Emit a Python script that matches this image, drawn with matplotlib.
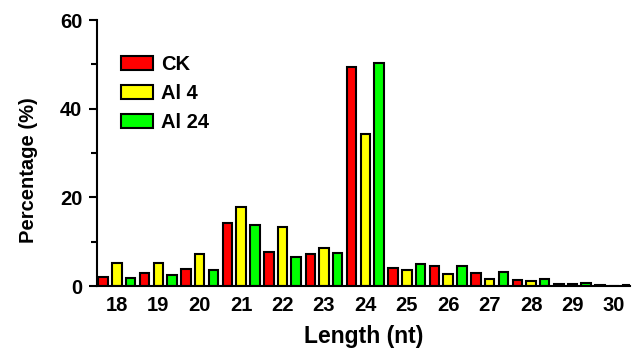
import numpy as np
import matplotlib
matplotlib.use('Agg')
import matplotlib.pyplot as plt
from matplotlib.ticker import MultipleLocator

plt.rcParams['font.family'] = ['Liberation Sans', 'DejaVu Sans']
plt.rcParams['font.weight'] = 'bold'

lengths = [18, 19, 20, 21, 22, 23, 24, 25, 26, 27, 28, 29, 30]
ck = [2.0, 2.9, 3.8, 14.3, 7.7, 7.2, 49.4, 4.0, 4.6, 3.0, 1.35, 0.5, 0.2]
al4 = [5.3, 5.3, 7.2, 17.8, 13.4, 8.5, 34.3, 3.7, 2.7, 1.6, 1.05, 0.4, 0.1]
al24 = [1.8, 2.5, 3.5, 13.8, 6.6, 7.5, 50.4, 4.9, 4.5, 3.1, 1.5, 0.6, 0.15]
series = [('CK', ck, '#ff0000'), ('Al 4', al4, '#ffff00'), ('Al 24', al24, '#00ff00')]

fig = plt.figure(figsize=(6.33, 3.53), dpi=100)
ax = fig.add_axes([97/633, 1 - 286/353, 533/633, 266/353])

x = np.array(lengths)
w = 0.23
for i, (name, vals, col) in enumerate(series):
    ax.bar(x + (i - 1) * 0.33, vals, width=w, color=col, edgecolor='black',
           linewidth=1.5, label=name)

ax.set_xlim(17.52, 30.39)
ax.set_ylim(0, 60)
ax.set_xticks(lengths)
ax.yaxis.set_major_locator(MultipleLocator(20))
ax.yaxis.set_minor_locator(MultipleLocator(10))
ax.tick_params(axis='x', length=0, labelsize=14.5, pad=7)
ax.tick_params(axis='y', which='major', length=5.5, width=1.5, labelsize=14.5, pad=5)
ax.tick_params(axis='y', which='minor', length=4.5, width=1.5)
for s in ['top', 'right']:
    ax.spines[s].set_visible(False)
for s in ['left', 'bottom']:
    ax.spines[s].set_linewidth(1.5)

ax.set_xlabel('Length (nt)', fontsize=16.5, fontweight='bold')
ax.set_ylabel('Percentage (%)', fontsize=14.5, fontweight='bold')
ax.xaxis.set_label_coords(0.5, -0.148)
ax.yaxis.set_label_coords(-0.11, 0.435)

ax.legend(loc='upper left', bbox_to_anchor=(121/633, 1 - 55/353),
          bbox_transform=fig.transFigure, frameon=False, borderpad=0,
          borderaxespad=0, fontsize=14.5, handlelength=1.6, handleheight=0.65,
          labelspacing=0.5, handletextpad=0.4)

fig.savefig('out.png', dpi=100)
